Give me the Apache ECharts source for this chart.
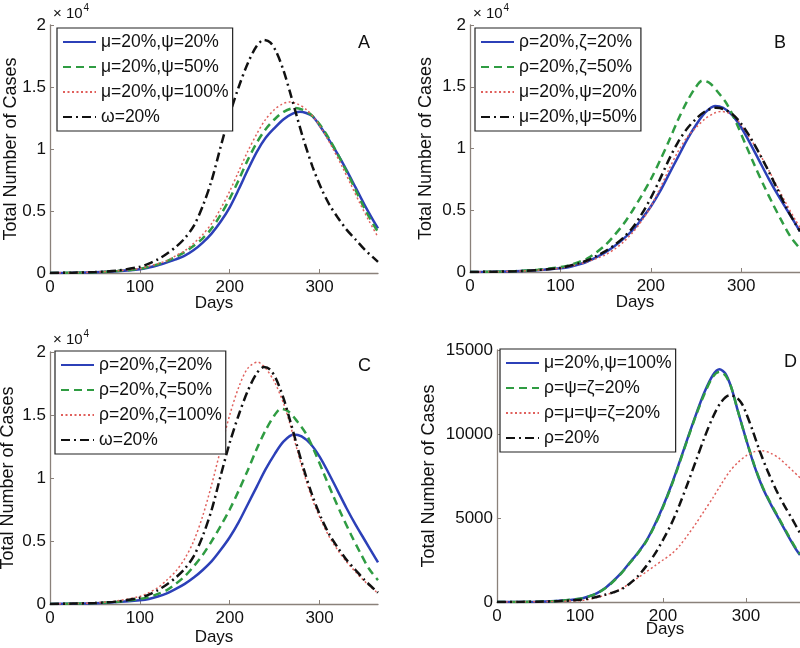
<!doctype html>
<html>
<head>
<meta charset="utf-8">
<title>Total Number of Cases</title>
<script src="https://cdn.jsdelivr.net/npm/echarts@6/dist/echarts.min.js"></script>
<style>
body{margin:0;background:#fff}
#wrap{position:relative;width:800px;height:648px;overflow:hidden}
.panel{position:absolute;width:400px;height:324px}
</style>
</head>
<body>
<div id="wrap">
<div id="pA" class="panel" style="left:0;top:0"></div>
<div id="pB" class="panel" style="left:400px;top:0"></div>
<div id="pC" class="panel" style="left:0;top:324px"></div>
<div id="pD" class="panel" style="left:400px;top:324px"></div>
</div>
<script type="text/javascript">
// [day, cases]
var muPsi20 = [[0,0],[25,20],[50,60],[75,150],[100,300],[110,440],[120,620],[130,850],[140,1100],[150,1400],[160,1850],[170,2450],[180,3200],[190,4150],[200,5300],[210,6750],[220,8300],[230,9750],[240,10900],[250,11700],[260,12400],[270,12850],[278,13000],[285,12900],[292,12650],[300,11900],[310,10800],[320,9600],[330,8300],[340,6900],[350,5500],[360,4200],[365,3600]];
var muPsi50 = [[0,0],[25,20],[50,60],[75,160],[100,330],[110,500],[120,700],[130,950],[140,1300],[150,1700],[160,2200],[170,2800],[180,3600],[190,4700],[200,6000],[210,7500],[220,9100],[230,10500],[240,11600],[250,12400],[260,13000],[272,13300],[280,13200],[290,12800],[300,12000],[310,10900],[320,9600],[330,8200],[340,6700],[350,5200],[360,3900],[365,3300]];
var muPsi100 = [[0,0],[25,25],[50,70],[75,180],[100,360],[110,550],[120,750],[130,1000],[140,1400],[150,1800],[160,2400],[170,3100],[180,4000],[190,5200],[200,6600],[210,8200],[220,9800],[230,11200],[240,12400],[250,13200],[258,13600],[266,13800],[275,13650],[285,13200],[295,12400],[305,11300],[315,10000],[325,8600],[335,7100],[345,5600],[355,4200],[365,2900]];
var omega20 = [[0,0],[25,30],[50,80],[75,200],[100,500],[110,750],[120,1100],[130,1550],[140,2100],[150,2800],[160,3800],[170,5400],[180,7500],[190,10200],[200,12800],[210,15000],[220,16900],[230,18300],[238,18800],[245,18600],[252,17800],[260,16300],[267,14600],[274,12800],[282,10800],[292,8600],[302,6800],[311,5500],[320,4500],[330,3500],[340,2700],[350,1900],[365,900]];
var rhoZeta20 = [[0,0],[25,20],[50,60],[75,150],[100,300],[110,400],[120,600],[130,850],[140,1200],[150,1600],[160,2100],[170,2700],[180,3400],[190,4300],[200,5300],[210,6500],[220,7900],[230,9300],[240,10700],[250,11900],[260,12900],[271,13450],[280,13300],[290,12700],[300,11700],[310,10400],[320,9000],[330,7600],[340,6300],[350,5100],[360,3900],[365,3300]];
var rhoZeta50 = [[0,0],[25,25],[50,70],[75,180],[100,400],[110,550],[120,800],[130,1100],[140,1600],[150,2200],[160,3000],[170,3900],[180,5000],[190,6200],[200,7500],[210,9000],[220,10600],[230,12300],[240,13800],[250,15000],[257,15500],[265,15300],[275,14500],[285,13500],[295,12000],[305,10300],[315,8600],[325,7000],[335,5500],[345,4100],[355,2800],[365,1900]];
var rhoZeta100 = [[0,0],[25,30],[50,90],[75,250],[100,600],[110,900],[120,1300],[130,1900],[140,2600],[150,3600],[160,5000],[170,7000],[180,9500],[190,12300],[200,15000],[210,17200],[220,18700],[231,19200],[240,18700],[250,17600],[260,15900],[267,14300],[274,12500],[282,10500],[292,8300],[302,6600],[311,5300],[320,4300],[330,3350],[340,2550],[350,1800],[365,850]];
var muPsi100D = [[0,0],[25,5],[50,20],[75,70],[100,200],[110,330],[120,520],[130,820],[140,1250],[150,1750],[160,2350],[170,2950],[180,3650],[190,4600],[200,5700],[210,6950],[220,8350],[230,9800],[240,11200],[250,12500],[260,13500],[268,13850],[275,13600],[282,12800],[290,11400],[300,9700],[310,8100],[320,6800],[330,5800],[340,4900],[350,4000],[360,3150],[365,2800]];
var rhoPsiZeta20 = [[0,0],[25,5],[50,20],[75,70],[100,200],[110,320],[120,510],[130,800],[140,1220],[150,1720],[160,2320],[170,2920],[180,3620],[190,4550],[200,5650],[210,6900],[220,8300],[230,9750],[240,11150],[250,12400],[260,13400],[268,13700],[275,13500],[282,12800],[290,11400],[300,9700],[310,8150],[320,6850],[330,5850],[340,4950],[350,4050],[360,3200],[365,2850]];
var allFour20 = [[0,0],[25,5],[50,15],[75,40],[100,80],[110,150],[120,260],[130,400],[140,580],[150,800],[160,1100],[170,1450],[180,1800],[190,2150],[200,2500],[210,2850],[220,3350],[230,4000],[240,4700],[250,5450],[260,6200],[270,7000],[280,7750],[290,8300],[300,8700],[310,8950],[320,9000],[330,8850],[340,8550],[350,8100],[365,7400]];
var rho20 = [[0,0],[25,5],[50,20],[75,60],[100,130],[110,200],[120,300],[130,430],[140,570],[150,760],[160,1100],[170,1550],[180,2150],[190,2850],[200,3700],[210,4650],[220,5800],[230,7100],[240,8450],[250,9800],[260,11000],[270,11900],[280,12300],[288,12200],[295,11800],[300,11250],[308,10200],[316,9050],[326,7800],[336,6700],[346,5750],[356,4900],[365,4100]];

var xTicks = [0, 100, 200, 300];
var FONT = '"Liberation Sans", Arial, Helvetica, sans-serif';
var AXIS = '#8a817a';

var STYLES = {
    solid: { color: '#2c40b8', width: 2.5, type: 'solid' },
    dashed: { color: '#2f9c42', width: 2.5, type: [8, 5] },
    dotted: { color: '#e0605c', width: 1.5, type: [2, 2.5] },
    dashdot: { color: '#111111', width: 2.5, type: [9, 4, 2, 4] }
};

function makeSeries(name, data, style) {
    var s = STYLES[style];
    return {
        name: name, type: 'line', data: data, symbol: 'none', smooth: 0.3,
        lineStyle: { color: s.color, width: s.width, type: s.type },
        itemStyle: { color: s.color }
    };
}

function panel(id, p) {
    var chart = echarts.init(document.getElementById(id));
    chart.setOption({
        animation: false,
        backgroundColor: '#fff',
        textStyle: { fontFamily: FONT, color: '#111' },
        title: {
            text: p.letter, left: p.letterPos[0], top: p.letterPos[1], padding: 0,
            textStyle: { fontSize: 18, fontWeight: 'normal', color: '#111', fontFamily: FONT }
        },
        graphic: p.scaled ? [{
            type: 'text', left: p.scalePos[0], top: p.scalePos[1],
            style: {
                text: '{a|× 10}{b|4}',
                rich: {
                    a: { fontSize: 15, fontFamily: FONT, fill: '#111', verticalAlign: 'bottom' },
                    b: { fontSize: 10, fontFamily: FONT, fill: '#111', verticalAlign: 'top', padding: [0, 0, 8, 1] }
                }
            }
        }] : [],
        legend: {
            orient: 'vertical', left: p.legendPos[0], top: p.legendPos[1],
            backgroundColor: '#fff', borderColor: '#222', borderWidth: 1.2,
            padding: [5, 4, 5, 5], itemGap: 7, itemWidth: 33, itemHeight: 14,
            itemStyle: { opacity: 0 },
            textStyle: { fontSize: 17.5, fontFamily: FONT, color: '#111', lineHeight: 18 },
            data: p.series.map(function (s) { return s.name; })
        },
        grid: { left: p.grid[0], top: p.grid[1], width: p.grid[2], height: p.grid[3], outerBoundsMode: 'none' },
        xAxis: {
            type: 'value', min: 0, max: 365,
            name: 'Days', nameLocation: 'middle', nameGap: p.daysGap, nameMoveOverlap: false,
            nameTextStyle: { fontSize: 17, color: '#111', padding: [0, 0, 0, p.daysShift || 0] },
            axisLine: { lineStyle: { color: AXIS, width: 1.3 } },
            axisTick: { inside: true, length: 4, customValues: xTicks, lineStyle: { color: AXIS } },
            axisLabel: { customValues: xTicks, fontSize: 17, color: '#111', margin: 6 },
            splitLine: { show: false }
        },
        yAxis: {
            type: 'value', min: 0, max: p.yMax, interval: 5000,
            name: 'Total Number of Cases', nameLocation: 'middle', nameGap: p.nameGap, nameMoveOverlap: false,
            nameTextStyle: { fontSize: 18, color: '#111' },
            axisLine: { show: true, lineStyle: { color: AXIS, width: 1.3 } },
            axisTick: { show: true, inside: true, length: 4, lineStyle: { color: AXIS } },
            axisLabel: {
                fontSize: 17, color: '#111', margin: 4,
                formatter: function (v) { return String(p.scaled ? v / 10000 : v); }
            },
            splitLine: { show: false }
        },
        series: p.series
    });
}

panel('pA', {
    letter: 'A', letterPos: [358, 34], scaled: true, scalePos: [53, 3],
    legendPos: [57, 28], grid: [50, 25, 328, 248], yMax: 20000, nameGap: 30, daysGap: 22,
    series: [
        makeSeries('μ=20%,ψ=20%', muPsi20, 'solid'),
        makeSeries('μ=20%,ψ=50%', muPsi50, 'dashed'),
        makeSeries('μ=20%,ψ=100%', muPsi100, 'dotted'),
        makeSeries('ω=20%', omega20, 'dashdot')
    ]
});

panel('pB', {
    letter: 'B', letterPos: [374, 34], scaled: true, scalePos: [73, 3],
    legendPos: [75, 28], grid: [70, 25, 330, 247], yMax: 20000, nameGap: 35, daysGap: 22,
    series: [
        makeSeries('ρ=20%,ζ=20%', rhoZeta20, 'solid'),
        makeSeries('ρ=20%,ζ=50%', rhoZeta50, 'dashed'),
        makeSeries('μ=20%,ψ=20%', muPsi20, 'dotted'),
        makeSeries('μ=20%,ψ=50%', muPsi50, 'dashdot')
    ]
});

panel('pC', {
    letter: 'C', letterPos: [358, 33], scaled: true, scalePos: [53, 5],
    legendPos: [55, 27], grid: [50, 28, 328, 252], yMax: 20000, nameGap: 33, daysGap: 25,
    series: [
        makeSeries('ρ=20%,ζ=20%', rhoZeta20, 'solid'),
        makeSeries('ρ=20%,ζ=50%', rhoZeta50, 'dashed'),
        makeSeries('ρ=20%,ζ=100%', rhoZeta100, 'dotted'),
        makeSeries('ω=20%', omega20, 'dashdot')
    ]
});

panel('pD', {
    letter: 'D', letterPos: [384, 29], scaled: false,
    legendPos: [100, 25], grid: [97, 26, 303, 252], yMax: 15000, nameGap: 59, daysGap: 19, daysShift: 33,
    series: [
        makeSeries('μ=20%,ψ=100%', muPsi100D, 'solid'),
        makeSeries('ρ=ψ=ζ=20%', rhoPsiZeta20, 'dashed'),
        makeSeries('ρ=μ=ψ=ζ=20%', allFour20, 'dotted'),
        makeSeries('ρ=20%', rho20, 'dashdot')
    ]
});
</script>
</body>
</html>
